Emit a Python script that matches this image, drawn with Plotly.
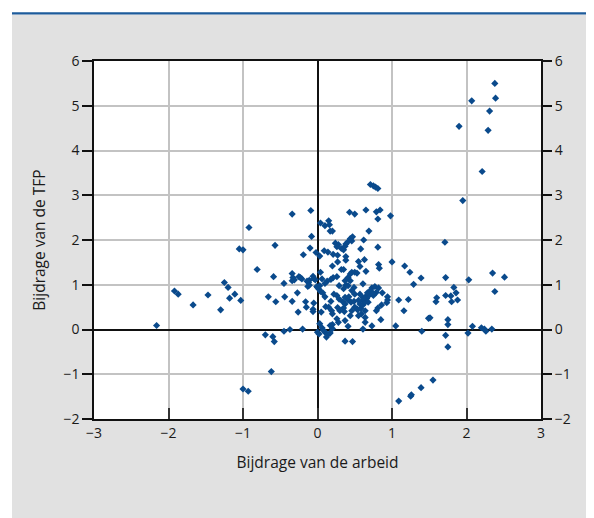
import plotly.graph_objects as go

# Contribution of labour (x) and contribution of TFP (y), per point
labour = [
    -2.16, -1.92, -1.87, -1.67, -1.47, -1.30, -1.25, -1.20, -1.18, -1.11,
    -1.03, -1.05, -1.00, -0.92, -0.81, -0.59, -0.57, -0.66, -0.56, -0.70,
    -0.60, -0.58, -0.62, -1.00, -0.93, -0.45, -0.44, -0.34, -0.27, -0.34,
    -0.09, -0.08, -0.10, -0.19, -0.02, -0.34, -0.33, -0.34, -0.31, -0.25,
    -0.23, -0.21, -0.11, -0.06, -0.12, -0.03, -0.14, -0.05, -0.13, -0.11,
    -0.01, -0.16, -0.15, -0.26, -0.06, -0.05, -0.06, -0.37, -0.45, -0.20,
    0.00, 0.00, 0.02, 0.04, 0.04, 0.03,
    0.04, 0.10, 0.15, 0.16, 0.17, 0.20, 0.03, 0.09, 0.14, 0.21,
    0.24, 0.28, 0.26, 0.32, 0.35, 0.37, 0.38, 0.41, 0.44, 0.46,
    0.47, 0.27, 0.38, 0.38, 0.27, 0.20, 0.43, 0.50, 0.65, 0.79,
    0.84, 0.81, 0.98, 0.69, 0.62, 0.58, 0.81, 0.71, 0.75, 0.78,
    0.81, 0.55, 0.63, 0.57, 0.82, 0.83, 0.50, 0.53, 0.46, 0.65,
    0.32, 0.35, 0.41, 0.44, 0.49, 0.38, 0.26, 0.21, 0.18, 0.13,
    0.10, 0.06, 0.37, 0.44, 0.41, 0.46, 0.29, 0.35, 0.61,
    0.07, 0.10, 0.11, 0.05, 0.18, 0.15, 0.20, 0.26, 0.29, 0.34,
    0.37, 0.41, 0.42, 0.45, 0.37, 0.35, 0.30, 0.27, 0.22, 0.19,
    0.36, 0.46, 0.53, 0.57, 0.61, 0.66, 0.70, 0.73, 0.77, 0.82,
    0.79, 0.75, 0.49, 0.50, 0.54, 0.58, 0.61, 0.64, 0.66, 0.69,
    0.71, 0.74, 0.67, 0.61, 0.68, 0.55, 0.50, 0.57, 0.64, 0.59,
    0.64, 0.55, 0.44, 0.37, 0.26, 0.64, 0.94, 0.93, 0.87, 0.86,
    0.81, 0.79, 0.85, 0.94, 1.09, 1.22, 1.16, 1.05, 1.40, 1.49,
    1.00, 1.17, 1.24, 1.39, 1.29, 0.73, 0.61, 0.41, 0.28, 0.20,
    0.37, 0.47, 0.03, 0.06, 0.10, 0.14, 0.17, 0.12, 0.02, 0.08,
    0.20, 0.17,
    2.38, 2.39, 2.07, 2.31, 1.90, 2.29, 2.21, 1.95, 1.71, 1.72,
    2.03, 2.35, 2.51, 2.38, 1.83, 1.86, 1.79, 1.72, 1.88, 1.80,
    1.60, 1.59, 1.51, 1.75, 1.75, 1.72, 1.75, 2.02, 2.08, 2.20,
    2.24, 2.26, 2.34, 1.09, 1.25, 1.26, 1.39, 1.55,
]
tfp = [
    0.09, 0.86, 0.79, 0.55, 0.77, 0.44, 1.05, 0.94, 0.70, 0.79,
    0.65, 1.80, 1.78, 2.28, 1.34, 1.18, 1.88, 0.73, 0.62, -0.12,
    -0.16, -0.27, -0.94, -1.33, -1.38, 1.03, 0.73, 0.63, 0.82, 2.58,
    2.66, 2.08, 1.82, 1.67, 1.72, 1.25, 1.16, 1.09, 1.11, 1.18,
    1.16, 1.13, 1.10, 1.19, 1.05, 1.11, 1.08, 1.14, 0.96, 0.99,
    0.96, 0.62, 0.50, 0.39, 0.45, 0.59, 0.40, 0.00, -0.04, 0.01,
    -0.06, 0.94, 0.90, 0.85, 1.28, 0.98,
    2.38, 2.32, 2.43, 2.34, 2.20, 2.20, 1.64, 1.76, 1.73, 1.68,
    1.93, 1.90, 1.85, 1.81, 1.78, 1.86, 1.91, 1.96, 2.03, 1.98,
    2.07, 1.66, 1.63, 1.55, 1.51, 1.42, 2.62, 2.58, 2.67, 2.63,
    2.67, 2.47, 2.54, 2.20, 2.00, 1.80, 1.84, 3.24, 3.21, 3.18,
    3.15, 1.52, 1.56, 1.41, 1.45, 1.37, 1.28, 1.26, 1.28, 1.30,
    1.34, 1.34, 1.16, 1.09, 0.94, 0.99, 1.18, 1.16, 1.12, 1.08,
    1.03, 1.13, 1.09, 1.24, 0.98, 0.87, 0.98, 0.91, 1.02,
    0.82, 0.73, 0.51, 0.39, 0.63, 0.50, 0.35, 0.76, 0.68, 0.62,
    0.72, 0.66, 0.73, 0.61, 0.57, 0.48, 0.42, 0.49, 0.79, 0.42,
    0.40, 0.42, 0.46, 0.57, 0.65, 0.76, 0.83, 0.93, 0.96, 0.93,
    0.83, 0.76, 0.63, 0.50, 0.44, 0.47, 0.55, 0.61, 0.69, 0.76,
    0.87, 0.81, 0.82, 0.71, 0.61, 0.65, 0.79, 0.79, 0.42, 0.35,
    0.27, 0.31, 0.31, 0.20, 0.24, 0.16, 0.73, 0.60, 0.82, 0.55,
    0.48, 0.42, 0.22, 0.66, 0.66, 0.67, 0.42, 0.08, -0.04, 0.25,
    1.51, 1.42, 1.28, 1.15, 1.01, 0.08, 0.01, 0.07, 0.16, 0.11,
    -0.26, -0.27, 0.13, 0.04, -0.06, -0.11, -0.08, -0.17, -0.10, -0.02,
    0.02, 0.09,
    5.50, 5.17, 5.11, 4.88, 4.54, 4.45, 3.53, 2.88, 1.95, 1.16,
    1.11, 1.26, 1.17, 0.85, 0.94, 0.82, 0.75, 0.76, 0.66, 0.62,
    0.71, 0.62, 0.26, 0.22, 0.11, -0.13, -0.39, -0.08, 0.07, 0.04,
    0.01, -0.04, 0.01, -1.60, -1.49, -1.46, -1.30, -1.13,
]

x_ticks = [-3, -2, -1, 0, 1, 2, 3]
y_ticks = [-2, -1, 0, 1, 2, 3, 4, 5, 6]
x_title = "Bijdrage van de arbeid"
y_title = "Bijdrage van de TFP"

FONT = "Open Sans, Noto Sans, sans-serif"
TXT = "#1a1a1a"
TICKSIZE = 14
TITLESIZE = 15.5

fig = go.Figure()
fig.add_trace(go.Scatter(
    x=labour, y=tfp, mode="markers",
    marker=dict(symbol="diamond", size=5.5, color="#0a4a8c", line=dict(width=0)),
    showlegend=False, hoverinfo="x+y",
))
# empty trace so the right-hand axis is drawn
fig.add_trace(go.Scatter(x=[None], y=[None], yaxis="y2", showlegend=False, hoverinfo="skip"))

# page body has an 8px margin, so the figure starts at (8, 8) in the window
OFF = 8
W, H = 594 - OFF, 518 - OFF
L, R, T = 94 - OFF, 53, 60.5 - OFF
ph = 358.5
B = H - T - ph
pw = W - L - R

def px_x(p):
    return (p - OFF - L) / pw

def px_y(p):
    return (T + ph - (p - OFF)) / ph

fig.update_layout(
    width=W, height=H,
    margin=dict(l=L, r=R, t=T, b=B, pad=0),
    paper_bgcolor="white",
    plot_bgcolor="white",
    font=dict(family=FONT, size=13, color=TXT),
    xaxis=dict(
        range=[-3, 3], tickvals=x_ticks, ticktext=[str(v).replace("-", "\u2212") for v in x_ticks],
        showgrid=True, gridcolor="#c3c3c3", gridwidth=1.5,
        zeroline=True, zerolinecolor="#111111", zerolinewidth=1.5,
        showline=True, linecolor="#111111", linewidth=1.5, mirror=True,
        ticks="inside", ticklen=11, tickwidth=2, tickcolor="#333333",
        title=dict(text=x_title, font=dict(size=TITLESIZE, color=TXT), standoff=17),
        tickfont=dict(size=TICKSIZE, color=TXT),
        fixedrange=True,
    ),
    yaxis=dict(
        range=[-2, 6], tickvals=y_ticks, ticktext=[str(v).replace("-", "\u2212") for v in y_ticks],
        showgrid=True, gridcolor="#c3c3c3", gridwidth=1.5,
        zeroline=True, zerolinecolor="#111111", zerolinewidth=1.5,
        showline=True, linecolor="#111111", linewidth=1.5, mirror=True,
        ticks="outside", ticklen=10, tickwidth=1.5, tickcolor="#111111",
        title=dict(text=y_title, font=dict(size=TITLESIZE, color=TXT), standoff=14),
        tickfont=dict(size=TICKSIZE, color=TXT),
        fixedrange=True,
    ),
    yaxis2=dict(
        range=[-2, 6], tickvals=y_ticks, ticktext=[str(v).replace("-", "\u2212") for v in y_ticks],
        overlaying="y", side="right", showgrid=False, zeroline=False,
        ticks="outside", ticklen=10, tickwidth=1.5, tickcolor="#111111",
        tickfont=dict(size=TICKSIZE, color=TXT), showline=False,
        fixedrange=True,
    ),
    shapes=[
        dict(type="rect", xref="paper", yref="paper",
             x0=px_x(12), x1=px_x(600), y0=px_y(530), y1=px_y(14),
             fillcolor="#e1e1e1", line=dict(width=0), layer="below"),
        dict(type="rect", xref="paper", yref="paper",
             x0=0, x1=1, y0=0, y1=1,
             fillcolor="white", line=dict(width=0), layer="below"),
        dict(type="line", xref="paper", yref="paper",
             x0=px_x(12), x1=px_x(600), y0=px_y(12.8), y1=px_y(12.8),
             line=dict(color="#1d5b9b", width=2.2)),
    ],
)

fig.write_html("out.html")
